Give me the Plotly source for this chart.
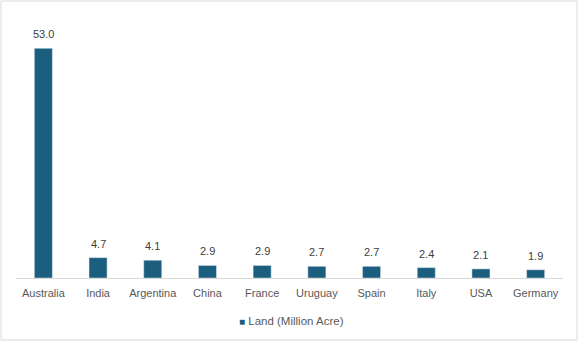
import plotly.graph_objects as go

countries = ["Australia", "India", "Argentina", "China", "France",
             "Uruguay", "Spain", "Italy", "USA", "Germany"]
land_million_acre = [53.0, 4.7, 4.1, 2.9, 2.9, 2.7, 2.7, 2.4, 2.1, 1.9]
series_name = "Land (Million Acre)"
bar_color = "#1B5E7E"

W, H = 579, 343
L, R, T, B = 16, 16, 18, 65
pw, ph = W - L - R, H - T - B

def px_x(p):
    return (p - L) / pw

def px_y(p):
    return (H - B - p) / ph

fig = go.Figure()
fig.add_trace(go.Bar(
    x=countries,
    y=land_million_acre,
    name=series_name,
    marker=dict(color=bar_color),
    cliponaxis=False,
    showlegend=False,
))

# value labels above each bar
for c, v in zip(countries, land_million_acre):
    fig.add_annotation(
        x=c, y=v, xref="x", yref="y",
        text=f"{v:.1f}", showarrow=False,
        xanchor="center", yanchor="bottom", yshift=6,
        font=dict(size=11, color="#404040"),
    )

# outer chart border
fig.add_shape(type="rect", xref="paper", yref="paper",
              x0=px_x(1), x1=px_x(577), y0=px_y(340), y1=px_y(1),
              line=dict(color="#D9D9D9", width=1), fillcolor="rgba(0,0,0,0)",
              layer="below")

# legend entry: small square swatch followed by the series name
fig.add_annotation(
    xref="paper", yref="paper", x=px_x(291), y=px_y(321),
    xanchor="center", yanchor="middle", showarrow=False,
    text=f"<span style='color:{bar_color};font-size:10px'>■</span> {series_name}",
    font=dict(size=11.5, color="#595959"),
)

fig.update_layout(
    width=W, height=H,
    margin=dict(l=L, r=R, t=T, b=B),
    paper_bgcolor="white", plot_bgcolor="white",
    font=dict(family="Liberation Sans, Arial, sans-serif", size=11, color="#595959"),
    bargap=0.67,
    showlegend=False,
    xaxis=dict(showline=True, linecolor="#D9D9D9", linewidth=1, automargin=False,
               ticks="", showgrid=False, ticklabelstandoff=5,
               tickfont=dict(color="#595959", size=11)),
    yaxis=dict(range=[0, 60], visible=False, showgrid=False, automargin=False),
)

fig.write_html("out.html")
